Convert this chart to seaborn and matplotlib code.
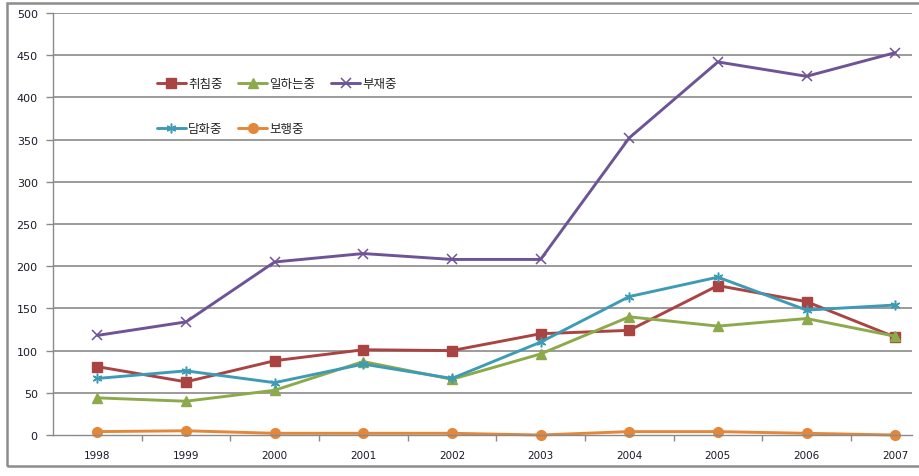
import numpy as np
import pandas as pd
import seaborn as sns
import matplotlib.pyplot as plt
from matplotlib.patches import Rectangle

years = ["1998", "1999", "2000", "2001", "2002", "2003", "2004", "2005", "2006", "2007"]
series_names = ["취침중", "일하는중", "부재중", "담화중", "보행중"]
sleeping = [81, 63, 88, 101, 100, 120, 124, 177, 158, 116]
working = [44, 40, 53, 87, 66, 96, 140, 129, 138, 117]
absent = [118, 134, 205, 215, 208, 208, 352, 442, 425, 453]
talking = [67, 76, 62, 84, 67, 110, 164, 187, 148, 154]
walking = [4, 5, 2, 2, 2, 0, 4, 4, 2, 0]

colors = ["#A94442", "#8DAA4B", "#6E5496", "#3E9BB5", "#E3873A"]
markers = ["s", "^", "x", (6, 2, 0), "o"]
msizes = [7, 7, 7, 7, 7]
medges = [1.0, 1.0, 1.1, 1.1, 1.0]

sns.set_theme(style="white")
plt.rcParams["font.family"] = ["DejaVu Sans", "Noto Sans CJK KR"]

df = pd.DataFrame({
    "pos": np.tile(np.arange(len(years)), len(series_names)),
    "value": sleeping + working + absent + talking + walking,
    "series": np.repeat(series_names, len(years)),
})

fig = plt.figure(figsize=(9.2, 4.77), dpi=100)
ax = fig.add_axes([53 / 920, 41 / 477, 859 / 920, 422 / 477])

for name, c, m, ms, mew in zip(series_names, colors, markers, msizes, medges):
    sub = df[df["series"] == name]
    sns.lineplot(data=sub, x="pos", y="value", color=c, marker=m,
                 markersize=ms, markeredgewidth=mew, markeredgecolor=c,
                 linewidth=2.1, label=name, ax=ax, clip_on=False)

ax.set_xlim(-0.5, 9.19)
ax.set_ylim(0, 500)
ax.set_yticks(range(0, 501, 50))
ax.set_xticks(range(len(years)))
ax.set_xticklabels(years)
ax.set_xticks(np.arange(0.5, 9.0, 1.0), minor=True)
ax.set_xlabel("")
ax.set_ylabel("")

for y in range(50, 501, 50):
    ax.axhline(y, color="#8a8a8a", lw=1.2, zorder=0)

for side in ["top", "right"]:
    ax.spines[side].set_visible(False)
for side in ["left", "bottom"]:
    ax.spines[side].set_color("#8a8a8a")
    ax.spines[side].set_linewidth(1.0)

ax.tick_params(axis="y", which="major", direction="out", length=5, width=1,
               color="#8a8a8a", pad=6, labelsize=8, labelcolor="#1a1a2a", left=True)
ax.tick_params(axis="x", which="major", length=0, pad=11, labelsize=7.5,
               labelcolor="#1a1a2a")
ax.tick_params(axis="x", which="minor", direction="out", length=4, width=1,
               color="#8a8a8a", bottom=True)

handles, labels = ax.get_legend_handles_labels()
hmap = dict(zip(labels, handles))
order = ["취침중", "담화중", "일하는중", "보행중", "부재중"]
ax.legend([hmap[k] for k in order], order, ncol=3, frameon=False,
          loc="upper left", bbox_to_anchor=(157 / 920, 1 - 78 / 477),
          bbox_transform=fig.transFigure, borderpad=0, borderaxespad=0,
          handlelength=2.3, handletextpad=0.2, labelspacing=2.55,
          columnspacing=1.25, prop={"family": ["Noto Sans CJK KR", "DejaVu Sans"], "size": 9})

fig.patches.append(Rectangle((7.5 / 920, 1 - 467 / 477), 1.0, 463 / 477,
                             transform=fig.transFigure, fill=False,
                             ec="#8c8c8c", lw=1.8))

fig.savefig("out.png", dpi=100, facecolor="white")
